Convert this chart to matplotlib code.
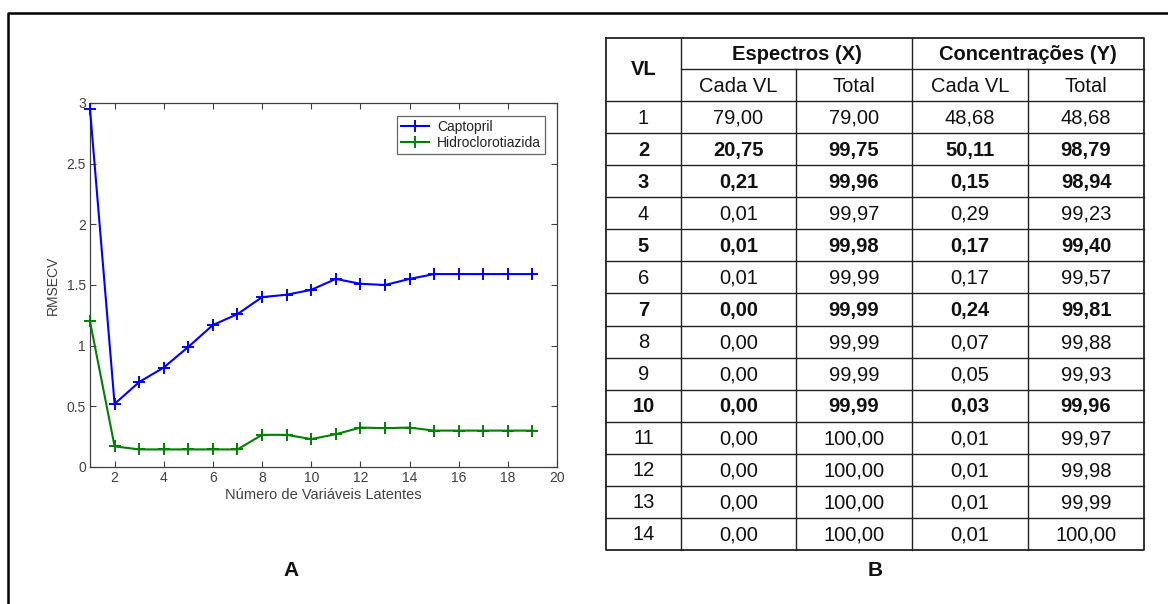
import matplotlib
matplotlib.use("Agg")
import matplotlib.pyplot as plt
from matplotlib.lines import Line2D

plt.rcParams['font.family'] = ['Liberation Sans', 'DejaVu Sans']

# --- RMSECV curves ---
n_vl = list(range(1, 20))
captopril = [2.95, 0.52, 0.70, 0.82, 0.99, 1.17, 1.26, 1.40, 1.42, 1.46,
             1.55, 1.51, 1.50, 1.55, 1.59, 1.59, 1.59, 1.59, 1.59]
hidroclorotiazida = [1.20, 0.17, 0.145, 0.145, 0.145, 0.145, 0.145, 0.265, 0.265, 0.23,
                     0.27, 0.325, 0.32, 0.325, 0.30, 0.30, 0.30, 0.30, 0.30]

# --- variance table ---
vl_rows = list(range(1, 15))
x_each = ["79,00", "20,75", "0,21", "0,01", "0,01", "0,01", "0,00",
          "0,00", "0,00", "0,00", "0,00", "0,00", "0,00", "0,00"]
x_total = ["79,00", "99,75", "99,96", "99,97", "99,98", "99,99", "99,99",
           "99,99", "99,99", "99,99", "100,00", "100,00", "100,00", "100,00"]
y_each = ["48,68", "50,11", "0,15", "0,29", "0,17", "0,17", "0,24",
          "0,07", "0,05", "0,03", "0,01", "0,01", "0,01", "0,01"]
y_total = ["48,68", "98,79", "98,94", "99,23", "99,40", "99,57", "99,81",
           "99,88", "99,93", "99,96", "99,97", "99,98", "99,99", "100,00"]
bold_rows = [2, 3, 5, 7, 10]

W, H = 1168, 604
fig = plt.figure(figsize=(W / 100, H / 100), dpi=100)
fig.patch.set_facecolor('white')

# ---------- panel A: line chart ----------
ax = fig.add_axes([90 / W, 1 - 467 / H, (557 - 90) / W, (467 - 103) / H])
ax.plot(n_vl, captopril, color='#0000ff', lw=1.5, marker='+', ms=9, mew=1.4,
        label='Captopril', clip_on=False, zorder=3)
ax.plot(n_vl, hidroclorotiazida, color='#008000', lw=1.5, marker='+', ms=9, mew=1.4,
        label='Hidroclorotiazida', clip_on=False, zorder=3)
ax.set_xlim(1, 20)
ax.set_ylim(0, 3)
ax.set_xticks(range(2, 21, 2))
ax.set_yticks([0, 0.5, 1, 1.5, 2, 2.5, 3])
ax.set_yticklabels(['0', '0.5', '1', '1.5', '2', '2.5', '3'])
axis_col = '#404040'
ax.tick_params(direction='in', top=True, right=True, length=4, width=0.8,
               labelsize=10, colors=axis_col, pad=3)
for s in ax.spines.values():
    s.set_color(axis_col)
    s.set_linewidth(0.9)
ax.set_xlabel('Número de Variáveis Latentes', fontsize=10.5, color=axis_col, labelpad=2)
ax.set_ylabel('RMSECV', fontsize=10, color=axis_col, labelpad=5)
leg = ax.legend(loc='upper right', fontsize=10, frameon=True, fancybox=False,
                edgecolor=axis_col, handlelength=2.0, borderpad=0.3,
                labelspacing=0.15, handletextpad=0.6,
                bbox_to_anchor=(0.99, 0.984))
leg.get_frame().set_linewidth(0.9)
for t in leg.get_texts():
    t.set_color('#222222')

# ---------- overlay in pixel coordinates: frame, table, panel letters ----------
ov = fig.add_axes([0, 0, 1, 1], zorder=-1)
ov.set_xlim(0, W)
ov.set_ylim(H, 0)
ov.axis('off')

# outer frame (open on the right and bottom)
ov.add_line(Line2D([8, 8, W], [H, 13, 13], color='black', lw=1.8))

# table geometry
cols = [606, 681, 796, 912, 1028, 1144]
top = 38
h1 = 69
h2 = 101
bottom = 550
row_h = (bottom - h2) / len(vl_rows)
lc = '#222222'

# outer border
ov.add_line(Line2D([cols[0], cols[-1], cols[-1], cols[0], cols[0]],
                   [top, top, bottom, bottom, top], color=lc, lw=1.3))
# vertical lines
for x in (cols[1], cols[3]):
    ov.add_line(Line2D([x, x], [top, bottom], color=lc, lw=1.0))
for x in (cols[2], cols[4]):
    ov.add_line(Line2D([x, x], [h1, bottom], color=lc, lw=1.0))
# horizontal lines
ov.add_line(Line2D([cols[1], cols[-1]], [h1, h1], color=lc, lw=1.0))
for i in range(len(vl_rows)):
    y = h2 + i * row_h
    ov.add_line(Line2D([cols[0], cols[-1]], [y, y], color=lc, lw=1.0))

fs = 14.5
tc = '#111111'
ov.text((cols[0] + cols[1]) / 2, (top + h2) / 2, 'VL', ha='center', va='center',
        fontsize=fs, fontweight='bold', color=tc)
ov.text((cols[1] + cols[3]) / 2, (top + h1) / 2 + 1, 'Espectros (X)', ha='center',
        va='center', fontsize=fs, fontweight='bold', color=tc)
ov.text((cols[3] + cols[5]) / 2, (top + h1) / 2 + 1, 'Concentrações (Y)', ha='center',
        va='center', fontsize=fs, fontweight='bold', color=tc)
for j, lab in enumerate(['Cada VL', 'Total', 'Cada VL', 'Total']):
    ov.text((cols[j + 1] + cols[j + 2]) / 2, (h1 + h2) / 2 + 1, lab, ha='center',
            va='center', fontsize=fs, color=tc)

for i, vl in enumerate(vl_rows):
    yc = h2 + (i + 0.5) * row_h + 1
    weight = 'bold' if vl in bold_rows else 'normal'
    cells = [str(vl), x_each[i], x_total[i], y_each[i], y_total[i]]
    for j, val in enumerate(cells):
        ov.text((cols[j] + cols[j + 1]) / 2, yc, val, ha='center', va='center',
                fontsize=fs, fontweight=weight, color=tc)

# panel letters
ov.text(291, 571, 'A', ha='center', va='center', fontsize=15, fontweight='bold', color=tc)
ov.text(875, 571, 'B', ha='center', va='center', fontsize=15, fontweight='bold', color=tc)

fig.savefig('out.png', dpi=100, facecolor='white')
